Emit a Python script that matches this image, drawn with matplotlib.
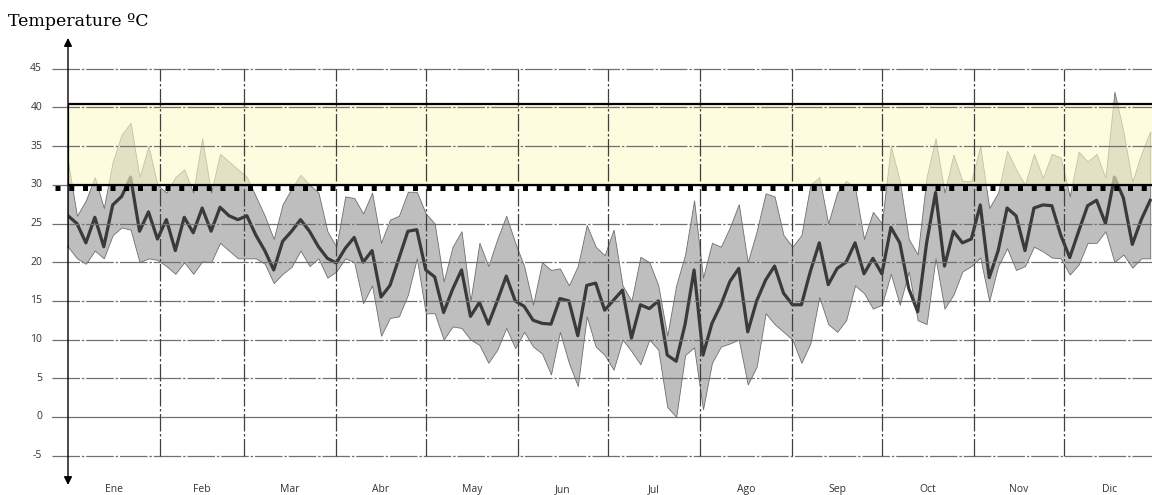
import matplotlib
matplotlib.use("Agg")
import matplotlib.pyplot as plt
import matplotlib.patches as patches
import numpy as np

# Daily temperature series sampled every 3 days (day 0 = 1 Jan)
t_max = [
    33, 26, 28, 31, 27, 33, 36.5, 38, 31, 35, 30,          # Ene
    29, 31, 32, 29, 36, 29, 34, 33, 32,                    # Feb
    31, 28.5, 26, 23, 27.5, 29.5, 31.3, 30, 29, 24,        # Mar
    22, 28.5, 28.3, 26.3, 29, 22.5, 25.5, 26, 29.1, 29.1,  # Abr
    26.3, 25, 17.5, 22, 24, 15, 22.5, 19.5, 23, 26, 22.5,  # May
    19.5, 14.5, 20, 19, 19.2, 17, 19.5, 24.8, 22, 20.9,    # Jun
    24.2, 17, 15, 20.7, 20, 17, 10.5, 17, 21, 28,          # Jul
    18, 22.5, 22, 24.5, 27.5, 20, 24, 28.9, 28.5, 23.5,    # Ago
    22, 23.5, 30, 31, 25, 29, 30.5, 29.6, 23, 26.5, 25,    # Sep
    35, 30.5, 23, 21, 31, 36, 29, 33.9, 30.5, 30.5,        # Oct
    35, 27, 29, 34.4, 32, 30, 34, 30.9, 34, 33.5,          # Nov
    28.5, 34.3, 33, 34, 30.9, 42, 36.9, 30.4, 34, 36.9,    # Dic
]
t_mean = [
    26, 25, 22.5, 25.8, 22, 27.4, 28.5, 31, 24, 26.5, 23,
    25.5, 21.5, 25.8, 23.8, 27, 24, 27.1, 26, 25.5,
    26, 23.5, 21.5, 19, 22.7, 24, 25.5, 24, 22, 20.5,
    19.9, 21.8, 23.2, 20, 21.5, 15.5, 17, 20.5, 24, 24.2,
    19, 18.1, 13.5, 16.5, 19, 13, 14.8, 12, 15, 18.2, 15,
    14.3, 12.5, 12.1, 12, 15.3, 15, 10.5, 17, 17.3, 13.8,
    15.1, 16.4, 10.2, 14.5, 14, 15, 8, 7.2, 12, 19,
    8, 12.1, 14.5, 17.5, 19.2, 11, 15, 17.7, 19.5, 16,
    14.5, 14.5, 18.8, 22.5, 17.1, 19.2, 20, 22.5, 18.5, 20.5, 18.5,
    24.5, 22.5, 16.6, 13.6, 22.5, 29, 19.5, 24, 22.5, 23,
    27.4, 18, 21.5, 27, 26, 21.5, 27, 27.4, 27.3, 23.5,
    20.6, 24, 27.3, 28, 25, 31, 28.3, 22.3, 25.5, 28,
]
t_min = [
    22, 20.5, 19.8, 21.5, 20.5, 23.5, 24.5, 24.2, 20, 20.5, 20.3,
    19.5, 18.5, 20, 18.5, 20.1, 20, 22.5, 21.5, 20.5,
    20.5, 20.5, 19.8, 17.3, 18.5, 19.4, 21.5, 19.5, 20.5, 18,
    18.8, 20.5, 20, 14.7, 17, 10.5, 12.8, 13, 15.8, 20.5,
    13.4, 13.4, 10, 11.7, 11.5, 10, 9.3, 7, 8.7, 11.5, 8.9,
    11, 9.1, 8.2, 5.5, 11, 7, 4, 13, 9.1, 8,
    6.1, 10, 8.5, 6.8, 10, 8.7, 1.3, 0, 8, 9,
    1, 7, 9.1, 9.5, 10, 4.2, 6.5, 13.4, 12, 11,
    10, 7, 9.5, 15.5, 12, 11, 12.5, 17, 16, 14, 14.5,
    18.5, 14.5, 18.8, 12.5, 12, 20.5, 14, 15.8, 18.8, 19.5,
    20.6, 15, 19.5, 21.8, 19, 19.5, 22, 21.4, 20.6, 20.5,
    18.4, 19.7, 22.5, 22.5, 24, 20, 21, 19.3, 20.5, 20.5,
]
months = ["Ene", "Feb", "Mar", "Abr", "May", "Jun",
          "Jul", "Ago", "Sep", "Oct", "Nov", "Dic"]
month_start = [0, 31, 59, 90, 120, 151, 181, 212, 243, 273, 304, 334, 365]
y_ticks = [45, 40, 35, 30, 25, 20, 15, 10, 5, 0, -5]
band_low, band_high = 30, 40.4

day = np.arange(len(t_max)) * 3

fig = plt.figure(figsize=(11.52, 4.95), dpi=100)
ax = fig.add_axes([68 / 1152, 10 / 495, 1084 / 1152, 447 / 495])
x_end = 363.6
ax.set_xlim(0, x_end)
ax.set_ylim(-8.79, 48.97)
for s in ax.spines.values():
    s.set_visible(False)
ax.set_xticks([])
ax.set_yticks([])

# min-max range and mean
ax.fill_between(day, t_min, t_max, color="#bebebe", edgecolor="#6e6e6e",
                linewidth=0.6, zorder=1)
ax.plot(day, t_mean, color="#3a3a3a", lw=2.3, zorder=2)

# hot band 30-40
band = patches.Rectangle((0, band_low), x_end + 5, band_high - band_low,
                         facecolor="#fcfac8", alpha=0.6, edgecolor="none", zorder=3)
ax.add_patch(band)
border = patches.Rectangle((0, band_low), x_end + 5, band_high - band_low,
                           facecolor="none", edgecolor="black", lw=1.6, zorder=6)
ax.add_patch(border)

# grid
for yv in y_ticks:
    ls = "-" if yv == 0 else (0, (22, 1.5, 2, 1.5))
    ax.plot([-5.4, x_end], [yv, yv], color="#707070", lw=0.9, ls=ls,
            clip_on=False, zorder=4)
    ax.text(-8.7, yv, str(yv), ha="right", va="center", fontsize=7.5,
            family="Open Sans", color="#333333")
for b in month_start[1:-1]:
    ax.plot([b, b], [-5, 45], color="#404040", lw=0.9,
            ls=(0, (14, 2, 2, 2)), zorder=4)

# threshold marker at 30
ax.plot([-4.4, x_end], [29.62, 29.62], color="black", lw=3.6,
        ls=(0, (1, 1.75)), solid_capstyle="butt", dash_capstyle="butt",
        clip_on=False, zorder=7)

# y axis with arrows on both ends
ax.annotate("", xy=(0, 48.97), xytext=(0, 22), zorder=8,
            arrowprops=dict(arrowstyle="-|>", color="black", lw=1.0,
                            mutation_scale=12, shrinkA=0, shrinkB=0))
ax.annotate("", xy=(0, -8.79), xytext=(0, 22), zorder=8,
            arrowprops=dict(arrowstyle="-|>", color="black", lw=1.0,
                            mutation_scale=12, shrinkA=0, shrinkB=0))

for i, m in enumerate(months):
    mid = (month_start[i] + month_start[i + 1]) / 2
    ax.text(mid, -9.4, m, ha="center", va="center", fontsize=7.5,
            family="Open Sans", color="#333333", clip_on=False)

fig.text(8 / 1152, 1 - 22 / 495, "Temperature ºC", ha="left", va="center",
         fontsize=12.5, family="DejaVu Serif")

fig.savefig("out.png", dpi=100)
